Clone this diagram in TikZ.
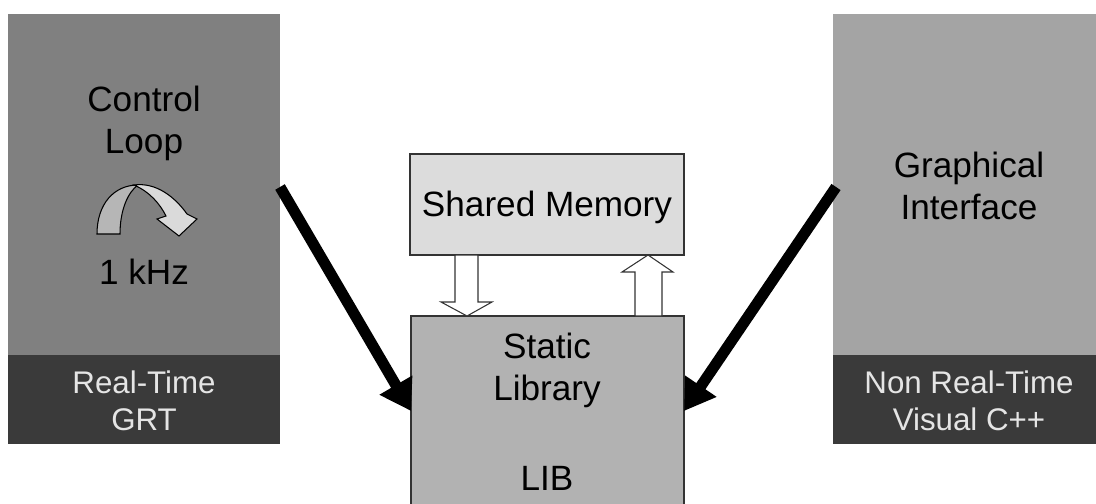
\documentclass[tikz,border=0pt]{standalone}
\usepackage{fontspec}
\setmainfont{Liberation Sans}
\usepackage{xcolor}
\usepackage{tikz}
\usetikzlibrary{arrows.meta,calc}

\definecolor{ctrlgray}{HTML}{808080}
\definecolor{guigray}{HTML}{A4A4A4}
\definecolor{basegray}{HTML}{3A3A3A}
\definecolor{memgray}{HTML}{DCDCDC}
\definecolor{libgray}{HTML}{B2B2B2}
\definecolor{loopback}{HTML}{B6B6B6}
\definecolor{loopfront}{HTML}{DADADA}

\begin{document}
\begin{tikzpicture}[x=0.2mm, y=-0.2mm,
    panel/.style={rectangle, inner sep=0pt, outer sep=0pt, anchor=north west},
    box/.style={panel, draw=black!80, line width=0.6pt},
    big/.style={font=\fontsize{20}{24}\selectfont, align=center},
    small/.style={font=\fontsize{17.8}{21}\selectfont, align=center, text=white!90!black},
    link/.style={line width=2.2mm, -{Triangle[length=6mm, width=7.2mm]}},
    hollow/.style={draw=black!80, fill=white, line width=0.6pt, line join=miter}]
    \useasboundingbox (0,0) rectangle (1096,503);

    % real-time side
    \node[panel, fill=ctrlgray, minimum width=54.4mm, minimum height=68.2mm] (ctrl) at (8,14) {};
    \node[panel, fill=basegray, minimum width=54.4mm, minimum height=17.8mm] (rt) at (8,355) {};
    \node[big] (ctrltxt) at (144,123) {Control\\Loop};
    \node[big] (freq) at (144,272) {1 kHz};
    \node[small] (rttxt) at (144,401) {Real-Time\\GRT};

    \draw[fill=loopback, line width=0.6pt] (97,234) .. controls (97,204) and (114,185) .. (138,185)
        .. controls (128,192) and (120,210) .. (120,234) -- cycle;
    \draw[fill=loopfront, line width=0.6pt] (134,185) .. controls (156,182) and (175,197) .. (187,214)
        -- (197,219) -- (179,236) -- (157,219) -- (166,216)
        .. controls (160,204) and (150,192) .. (134,185) -- cycle;

    % non real-time side
    \node[panel, fill=guigray, minimum width=52.6mm, minimum height=68.2mm] (gui) at (833,14) {};
    \node[panel, fill=basegray, minimum width=52.6mm, minimum height=17.8mm] (nrt) at (833,355) {};
    \node[big] (guitxt) at (969,186) {Graphical\\Interface};
    \node[small] (nrttxt) at (969,401) {Non Real-Time\\Visual C++};

    % middle
    \node[box, fill=memgray, minimum width=54.8mm, minimum height=20.2mm] (mem) at (410,154) {};
    \node[big] (memtxt) at (547,207) {Shared Memory};
    \node[box, fill=libgray, minimum width=54.6mm, minimum height=38mm] (lib) at (411,316) {};
    \node[big] (libtxt) at (547,370) {Static\\Library};
    \node[big] (libname) at (547,478) {LIB};

    \draw[hollow] ($(mem.south west)+(45,0)$) -- ++(0,47) -- ++(-14,0) -- ++(26,14)
        -- ++(25,-14) -- ++(-14,0) -- ++(0,-47) -- cycle;
    \draw[hollow] ($(lib.north west)+(224,0)$) -- ++(0,-44) -- ++(-13,0) -- ++(26,-17)
        -- ++(25,17) -- ++(-11,0) -- ++(0,44) -- cycle;

    \draw[link] ($(ctrl.north east)+(0,173)$) -- (lib.west);
    \draw[link] ($(gui.north west)+(3,173)$) -- (lib.east);

\end{tikzpicture}
\end{document}
